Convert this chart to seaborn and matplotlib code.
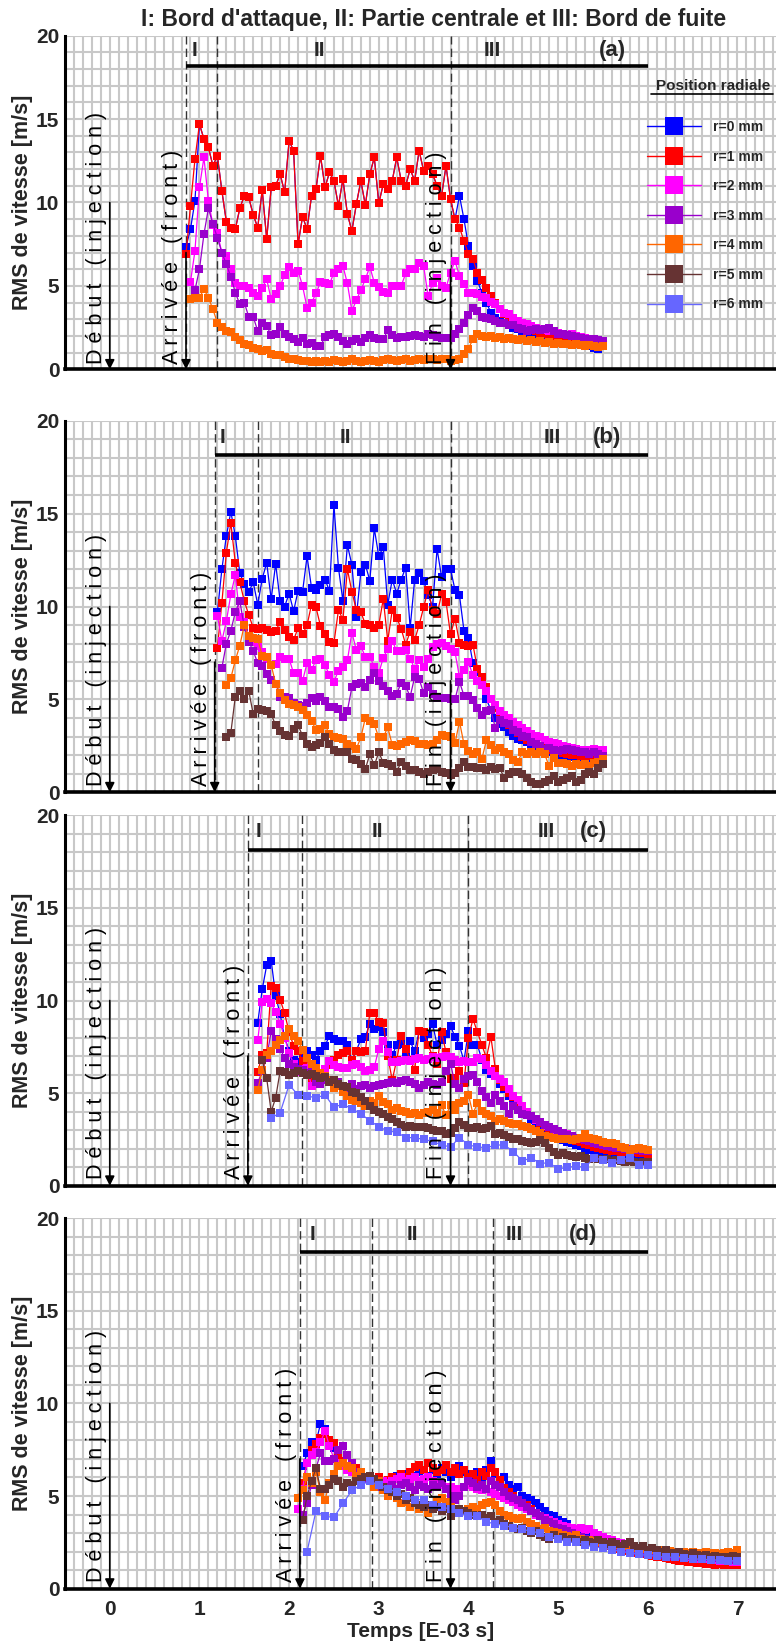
import numpy as np
import pandas as pd
import matplotlib
matplotlib.use("Agg")
import matplotlib.pyplot as plt
from matplotlib.lines import Line2D
from matplotlib.ticker import MultipleLocator
import seaborn as sns

sns.set_style("white")
NARROW = ["Liberation Sans Narrow", "Liberation Sans", "DejaVu Sans"]
ARIAL = ["Liberation Sans", "DejaVu Sans"]
plt.rcParams["font.family"] = ARIAL

# ---------------- data ----------------
RADII = ["r=0 mm", "r=1 mm", "r=2 mm", "r=3 mm", "r=4 mm", "r=5 mm", "r=6 mm"]
PALETTE = ["#0000ff", "#ff0000", "#ff00ff", "#9900cc", "#ff6600", "#663333", "#6666ff"]
STEP = 0.05
STEP_R6 = 0.1

# Panel (a)
a_r1 = [6.9, 9.8, 12.6, 14.7, 13.8, 13.3, 12.2, 12.8, 10.7, 8.85,
        8.5, 8.4, 9.65, 10.4, 10.3, 9.25, 8.5, 10.75, 7.8, 10.9,
        11.0, 11.7, 10.6, 13.7, 13.1, 7.5, 9.15, 8.4, 10.4, 10.8,
        12.8, 10.9, 11.8, 11.3, 9.8, 11.4, 9.3, 8.3, 9.9, 11.3,
        9.85, 11.7, 12.7, 9.95, 11.1, 10.8, 11.3, 12.7, 11.3, 11.0,
        12.0, 11.3, 13.1, 11.9, 12.2, 11.7, 11.0, 10.4, 12.2, 10.2,
        9.0, 8.5, 7.7, 6.9, 6.6, 5.8, 5.35, 4.85, 4.4, 4.0,
        3.6, 3.3, 3.1, 2.9, 2.75, 2.6, 2.5, 2.4, 2.3, 2.2,
        2.1, 2.0, 1.95, 1.9, 1.8, 1.75, 1.7, 1.65, 1.6, 1.55,
        1.5, 1.5, 1.45, 1.4]
a_r0 = [7.35, 8.4, 10.1] + a_r1[3:61] + [
        10.4, 9.0, 7.4, 6.2, 5.3, 4.6, 4.0, 3.4, 3.1, 2.9,
        2.8, 2.65, 2.5, 2.4, 2.3, 2.2, 2.0, 1.95, 1.95, 1.9,
        1.9, 1.85, 1.8, 1.7, 1.65, 1.6, 1.6, 1.5, 1.45, 1.4,
        1.3, 1.25]
a_r2 = [5.25, 7.1, 10.9, 12.7, 10.1, 8.65, 8.15, 7.0, 6.8, 6.0,
        5.15, 5.0, 5.0, 4.9, 4.6, 4.4, 4.9, 5.4, 4.2, 4.5,
        5.0, 5.65, 6.15, 5.8, 5.9, 5.0, 3.7, 4.0, 4.55, 5.25,
        5.15, 5.1, 5.8, 6.0, 6.2, 5.15, 3.5, 4.15, 4.75, 5.4,
        6.15, 5.2, 4.95, 4.65, 4.6, 5.0, 5.0, 5.0, 5.75, 6.0,
        6.0, 6.4, 6.2, 4.4, 5.15, 5.5, 5.0, 4.9, 5.8, 6.5,
        5.6, 5.1, 4.6, 4.55, 4.5, 4.35, 4.25, 4.05, 3.9, 3.6,
        3.35, 3.3, 3.1, 2.9, 2.8, 2.7, 2.6, 2.5, 2.45, 2.35,
        2.3, 2.3, 2.2, 2.15, 2.05, 2.1, 2.0, 1.95, 1.9, 1.85,
        1.8, 1.75, 1.7]
a_r3 = [4.75, 6.0, 8.1, 9.65, 8.7, 7.9, 7.0, 6.3, 5.55, 4.6,
        3.9, 4.0, 3.15, 3.15, 2.3, 2.8, 2.6, 2.05, 2.1, 2.55,
        2.15, 1.95, 1.8, 1.65, 1.9, 1.5, 1.6, 1.4, 1.4, 1.95,
        2.05, 2.15, 1.95, 1.7, 1.55, 1.7, 1.8, 1.65, 1.9, 2.05,
        1.9, 1.8, 1.8, 2.35, 2.05, 1.9, 1.95, 1.95, 2.0, 2.05,
        2.0, 1.95, 2.1, 2.05, 1.95, 1.9, 1.9, 1.9, 2.15, 2.4,
        2.8, 3.25, 3.7, 3.5, 3.15, 3.1, 3.0, 2.9, 2.8, 2.8,
        2.65, 2.65, 2.5, 2.45, 2.3, 2.35, 2.4, 2.35, 2.45, 2.5,
        2.3, 2.15, 2.1, 2.05, 2.0, 1.95, 1.9, 1.85, 1.8, 1.8,
        1.75, 1.7]
a_r4 = [4.2, 4.25, 4.3, 4.8, 4.3, 3.6, 2.8, 2.55, 2.3, 2.25,
        1.95, 1.75, 1.55, 1.45, 1.3, 1.2, 1.1, 1.15, 0.95, 0.85,
        0.85, 0.75, 0.65, 0.6, 0.55, 0.5, 0.5, 0.45, 0.5, 0.45,
        0.5, 0.45, 0.55, 0.5, 0.45, 0.5, 0.6, 0.5, 0.45, 0.5,
        0.55, 0.5, 0.45, 0.55, 0.6, 0.55, 0.5, 0.55, 0.6, 0.5,
        0.55, 0.6, 0.55, 0.65, 0.6, 0.55, 0.65, 0.6, 0.5, 0.55,
        0.6, 0.9, 1.25, 1.8, 2.1, 2.0, 1.95, 2.0, 1.9, 1.95,
        1.85, 1.9, 1.8, 1.75, 1.85, 1.7, 1.75, 1.65, 1.7, 1.6,
        1.65, 1.55, 1.6, 1.5, 1.55, 1.45, 1.5, 1.45, 1.4, 1.45,
        1.4, 1.35, 1.4]
a_start = [0.85, 0.85, 0.90, 0.95, 0.90]

# Panel (b)
b_r0 = [9.7, 12.0, 13.8, 15.1, 13.8, 11.8, 11.2, 10.8, 11.3, 10.1,
        11.5, 12.35, 10.4, 12.3, 10.3, 10.0, 10.7, 9.75, 10.85, 10.8,
        12.7, 11.0, 10.9, 11.15, 11.45, 10.85, 15.45, 12.1, 10.3, 13.3,
        12.25, 9.45, 11.85, 12.25, 11.4, 14.2, 12.7, 13.2, 10.1, 11.45,
        10.7, 11.45, 12.1, 8.85, 11.45, 11.8, 11.4, 10.6, 10.0, 13.1,
        11.6, 12.0, 12.0, 10.9, 10.6, 8.7, 8.3, 6.95, 6.5, 5.75,
        5.0, 4.45, 4.0, 3.7, 3.5, 3.25, 3.05, 2.85, 2.8, 2.7,
        2.5, 2.35, 2.2, 2.15, 2.15, 2.05, 2.0, 1.95, 1.85, 1.9,
        1.8, 1.75, 1.9, 1.85, 1.95, 2.05, 2.1]
b_r1 = [7.75, 10.2, 12.9, 14.5, 12.35, 11.3, 10.3, 9.55, 8.85, 8.8,
        8.85, 8.75, 8.65, 8.7, 9.15, 8.75, 8.35, 8.2, 8.85, 8.5,
        9.0, 10.1, 9.95, 8.95, 8.5, 8.1, 8.05, 9.8, 9.3, 12.0,
        10.8, 9.8, 9.7, 9.05, 9.0, 8.85, 9.0, 10.4, 8.15, 9.8,
        9.4, 8.8, 7.95, 8.65, 8.2, 9.0, 9.95, 10.9, 9.8, 9.6,
        10.65, 10.25, 8.5, 9.35, 8.05, 7.95, 7.9, 7.95, 6.65, 6.2,
        5.65, 5.0, 4.55, 4.15, 3.9, 3.6, 3.35, 3.2, 3.0, 2.8,
        2.7, 2.6, 2.45, 2.4, 2.3, 2.25, 2.2, 2.1, 2.05, 2.0,
        2.0, 1.95, 1.9, 1.95, 1.9, 1.95, 2.0]
b_r2 = [9.5, 8.15, 9.2, 10.65, 11.7, 9.45, 9.15, 8.35, 8.1, 7.85,
        7.55, 7.15, 6.85, 6.9, 7.3, 7.2, 7.2, 6.4, 6.4, 6.0,
        6.95, 6.6, 7.1, 7.2, 6.85, 6.3, 5.95, 6.55, 6.75, 7.1,
        8.6, 7.65, 7.85, 7.3, 7.3, 6.75, 6.4, 7.25, 7.7, 8.15,
        7.6, 7.6, 7.65, 7.2, 6.65, 7.1, 6.75, 7.2, 7.8, 8.0,
        8.05, 7.85, 7.7, 7.55, 6.2, 6.6, 7.0, 6.3, 6.0, 5.75,
        5.45, 5.0, 4.7, 4.35, 4.15, 4.0, 3.8, 3.6, 3.45, 3.3,
        3.15, 3.05, 2.95, 2.8, 2.7, 2.65, 2.6, 2.5, 2.45, 2.4,
        2.35, 2.3, 2.3, 2.25, 2.35, 2.3, 2.25]
b_r3 = [6.7, 8.0, 8.7, 9.7, 10.3, 8.9, 8.1, 7.6, 6.95, 6.8,
        6.35, 6.05, 5.85, 5.15, 5.15, 5.1, 4.8, 4.7, 4.65, 4.8,
        5.1, 4.9, 5.15, 4.9, 4.6, 4.6, 4.5, 4.05, 4.4, 5.65,
        5.85, 5.9, 5.65, 6.05, 6.4, 6.0, 5.7, 5.45, 5.2, 5.3,
        5.9, 5.7, 5.15, 6.2, 6.1, 5.35, 5.65, 5.3, 5.1, 5.1,
        5.1, 5.0, 5.0, 5.95, 5.2, 5.2, 4.95, 4.55, 4.15, 4.35,
        4.45, 3.45, 3.9, 3.75, 3.65, 3.35, 3.25, 3.05, 2.95, 2.7,
        2.6, 2.5, 2.35, 2.4, 2.3, 2.2, 2.25, 2.35, 2.3, 2.2,
        2.15, 2.15, 2.05, 2.15, 2.05, 1.95]
b_r4 = [5.75, 6.15, 7.1, 7.9, 9.0, 8.4, 8.3, 8.25, 7.35, 7.3,
        6.85, 5.85, 5.35, 4.95, 4.75, 4.7, 4.6, 4.45, 4.15, 3.85,
        3.35, 3.4, 3.6, 3.15, 3.0, 2.9, 2.85, 2.6, 2.5, 2.35,
        2.95, 4.0, 3.85, 3.65, 2.95, 2.95, 3.5, 2.55, 2.5, 2.6,
        2.7, 2.8, 2.75, 2.6, 2.6, 2.55, 2.6, 2.8, 3.1, 3.05,
        2.95, 2.65, 3.8, 2.6, 2.2, 2.05, 2.15, 1.8, 2.8, 2.55,
        2.3, 2.4, 2.15, 2.05, 1.75, 1.65, 2.15, 2.05, 2.15, 2.05,
        2.15, 2.05, 1.4, 1.85, 1.55, 1.55, 1.5, 1.4, 1.5, 1.45,
        1.5, 1.4, 1.55, 1.65, 1.8]
b_r5 = [2.95, 3.2, 5.15, 5.45, 5.0, 5.45, 4.2, 4.5, 4.45, 4.35,
        4.2, 3.6, 3.3, 3.1, 3.05, 3.4, 3.6, 3.05, 2.6, 2.45,
        2.55, 2.65, 2.95, 2.6, 2.3, 2.15, 2.15, 2.15, 1.8, 1.75,
        1.5, 1.25, 2.05, 1.45, 2.15, 1.6, 1.5, 1.4, 1.1, 1.65,
        1.4, 1.2, 1.2, 1.1, 1.0, 1.1, 1.2, 1.25, 1.1, 1.05,
        0.95, 1.05, 1.3, 1.65, 1.35, 1.35, 1.3, 1.3, 1.2, 1.35,
        1.25, 1.3, 0.75, 1.0, 1.1, 1.1, 1.0, 0.75, 0.55, 0.45,
        0.45, 0.55, 0.65, 0.85, 0.55, 0.65, 0.75, 0.9, 0.55, 0.65,
        1.0, 1.1, 1.0, 1.3, 1.5]
b_start = [1.2, 1.2, 1.2, 1.25, 1.3, 1.3]

# Panel (c)
c_r0 = [8.8, 10.6, 11.9, 12.15, 10.25, 9.25, 8.0, 7.3, 6.8, 6.7,
        6.9, 7.3, 7.05, 6.8, 7.3, 7.55, 8.1, 7.9, 7.8, 7.8,
        7.6, 6.8, 7.3, 7.9, 8.05, 8.75, 8.45, 8.55, 8.3, 7.6,
        7.05, 7.6, 7.65, 7.1, 7.8, 7.25, 8.35, 8.0, 8.2, 8.75,
        7.6, 7.85, 8.2, 8.6, 8.05, 7.55, 6.75, 8.35, 7.6, 7.6,
        6.8, 6.25, 6.05, 6.0, 5.5, 5.2, 4.85, 4.65, 4.35, 4.1,
        3.9, 3.55, 3.35, 3.25, 2.95, 2.8, 2.8, 2.6, 2.45, 2.35,
        2.3, 2.2, 2.15, 2.05, 1.95, 1.9, 1.85, 1.8, 1.75, 1.7,
        1.7, 1.65, 1.65, 1.6, 1.6, 1.5, 1.5, 1.5]
c_r1 = [6.15, 7.05, 7.15, 10.8, 10.7, 10.05, 9.3, 8.3, 7.55, 7.25,
        6.75, 6.9, 5.6, 5.85, 6.0, 6.3, 6.5, 6.8, 7.05, 7.15,
        7.25, 6.8, 7.25, 7.2, 7.25, 9.35, 9.3, 8.85, 8.8, 7.0,
        5.7, 6.8, 8.1, 7.4, 6.8, 6.25, 8.35, 8.3, 7.6, 7.0,
        6.6, 8.3, 7.2, 5.75, 5.8, 6.2, 5.55, 8.0, 9.0, 8.3,
        7.6, 6.9, 8.05, 6.3, 5.7, 5.35, 5.0, 4.8, 4.5, 4.25,
        4.0, 3.75, 3.55, 3.4, 3.2, 3.05, 2.95, 2.8, 2.7, 2.6,
        2.5, 2.4, 2.35, 2.25, 2.2, 2.1, 2.05, 2.0, 1.95, 1.9,
        1.9, 1.85, 1.85, 1.8, 1.8, 1.75, 1.75, 1.7]
c_r2 = [7.85, 9.9, 10.1, 9.85, 9.4, 8.75, 8.0, 7.15, 6.6, 6.15,
        6.3, 6.35, 5.4, 5.85, 5.95, 6.3, 6.75, 6.5, 6.4, 6.35,
        6.35, 6.5, 6.6, 6.4, 6.2, 6.25, 6.4, 7.4, 7.8, 7.2,
        6.7, 6.7, 6.75, 6.8, 6.75, 6.85, 6.9, 6.8, 6.85, 6.95,
        6.9, 6.95, 7.0, 6.95, 6.8, 6.7, 6.75, 6.7, 6.7, 6.9,
        6.85, 6.5, 6.2, 5.95, 5.75, 5.6, 5.2, 4.85, 4.65, 4.3,
        4.0, 3.75, 3.55, 3.45, 3.25, 3.15, 3.0, 2.95, 2.8, 2.8,
        2.7, 2.6, 2.55, 2.45, 2.4, 2.35, 2.3, 2.25, 2.2, 2.15,
        2.15, 2.1, 2.05, 2.0, 2.0, 2.0, 1.95, 1.95]
c_r3 = [5.55, 6.2, 6.9, 8.35, 7.9, 7.4, 6.9, 6.6, 6.4, 6.3,
        6.25, 6.1, 6.25, 5.6, 5.5, 5.7, 5.6, 5.55, 5.6, 5.4,
        5.3, 5.5, 5.2, 5.4, 5.45, 5.3, 5.4, 5.45, 5.5, 5.55,
        5.6, 5.55, 5.65, 5.7, 5.6, 5.5, 5.3, 5.45, 5.6, 5.5,
        5.45, 5.6, 6.2, 6.6, 5.5, 5.3, 5.75, 5.9, 6.0, 5.6,
        5.1, 4.8, 4.45, 4.9, 4.6, 4.3, 3.9, 4.3, 4.1, 3.9,
        3.8, 3.75, 3.6, 3.45, 3.3, 3.2, 3.05, 2.95, 2.85, 2.75,
        2.7, 2.6, 2.5, 2.45, 2.4, 2.3, 2.25, 2.2, 2.15, 2.1,
        2.05, 2.05, 2.0, 2.0, 1.95, 1.95, 1.9, 1.9]
c_r4 = [5.15, 6.25, 7.05, 7.3, 7.6, 7.85, 8.1, 8.45, 8.1, 7.8,
        7.35, 6.9, 6.6, 6.35, 6.1, 5.9, 5.7, 5.3, 5.4, 5.05,
        4.85, 4.65, 4.55, 4.45, 4.3, 4.6, 4.45, 4.85, 4.5, 4.4,
        4.1, 4.2, 4.05, 4.0, 3.9, 3.95, 3.8, 3.95, 4.0, 4.1,
        3.95, 4.35, 3.8, 4.35, 4.1, 4.45, 4.6, 4.9, 3.9, 4.45,
        4.05, 3.9, 3.75, 3.5, 3.6, 3.5, 3.4, 3.35, 3.35, 3.25,
        3.15, 3.05, 2.95, 2.85, 2.7, 2.65, 2.6, 2.55, 2.5, 2.5,
        2.45, 2.55, 2.6, 2.8, 2.6, 2.5, 2.45, 2.35, 2.3, 2.3,
        2.25, 2.1, 2.05, 1.95, 2.0, 2.05, 2.0, 1.95]
c_r5 = [6.8, 5.8, 4.0, 4.75, 6.2, 6.15, 6.0, 6.1, 6.2, 6.1,
        6.0, 6.05, 5.95, 5.8, 5.85, 5.6, 5.7, 5.5, 5.4, 5.35,
        5.05, 5.0, 4.8, 4.6, 4.3, 4.1, 4.0, 3.9, 3.7, 3.6,
        3.45, 3.3, 3.2, 3.25, 3.2, 3.2, 3.15, 3.1, 3.0, 2.95,
        2.95, 2.8, 2.85, 3.1, 3.45, 3.3, 3.1, 3.1, 3.15, 3.05,
        3.1, 3.25, 2.8, 2.85, 2.75, 2.65, 2.55, 2.5, 2.4, 2.35,
        2.3, 2.35, 2.45, 2.3, 2.05, 1.85, 1.65, 1.75, 1.65, 1.6,
        1.55, 1.6, 1.5, 1.45, 1.5, 1.45, 1.4, 1.45, 1.35, 1.4,
        1.35, 1.3, 1.35, 1.3, 1.25, 1.3, 1.3]
c_r6 = [3.65, 3.95, 5.45, 4.9, 4.85, 4.75, 4.9, 4.25, 4.4, 4.15,
        3.9, 3.5, 3.2, 2.95, 2.9, 2.6, 2.6, 2.5, 2.4, 2.2,
        2.1, 2.6, 2.2, 2.1, 2.05, 2.2, 2.2, 1.85, 1.35, 1.5,
        1.2, 1.25, 0.9, 1.0, 1.05, 1.0, 1.5, 1.4, 1.25, 1.4,
        1.5, 1.1, 1.1]
c_start = [1.65, 1.65, 1.65, 1.65, 1.65, 1.7, 1.8]

# Panel (d)
d_r0 = [6.6, 7.3, 7.9, 7.9, 8.9, 8.6, 8.0, 7.6, 7.3, 6.9,
        6.6, 6.3, 6.2, 6.0, 5.9, 5.8, 5.9, 5.9, 5.7, 5.8,
        5.9, 6.1, 6.0, 6.2, 6.3, 6.1, 6.3, 6.4, 6.1, 6.4,
        6.2, 6.5, 6.3, 6.0, 6.3, 6.6, 6.3, 6.2, 6.1, 6.3,
        6.0, 6.4, 6.9, 6.2, 5.8, 6.0, 5.6, 5.4, 5.5, 5.0,
        4.9, 4.8, 4.6, 4.4, 4.2, 4.0, 3.9, 3.7, 3.6, 3.5,
        3.3, 3.2, 3.1, 3.0, 2.9, 2.8, 2.75, 2.6, 2.6, 2.5,
        2.45, 2.4, 2.35, 2.3, 2.2, 2.15, 2.1, 2.05, 2.0, 1.95,
        1.9, 1.85, 1.85, 1.8, 1.75, 1.7, 1.7, 1.65, 1.6, 1.6,
        1.55, 1.55, 1.5, 1.5, 1.45, 1.45, 1.4, 1.4]
d_r1 = [4.9, 5.7, 6.8, 7.5, 7.8, 8.15, 8.35, 8.0, 7.85, 7.2,
        6.9, 6.6, 6.4, 6.5, 6.2, 6.0, 5.9, 5.8, 6.0, 5.7,
        5.85, 6.0, 5.9, 6.2, 6.0, 6.3, 6.55, 6.65, 6.4, 6.8,
        6.5, 6.3, 6.4, 6.7, 6.3, 6.5, 6.2, 6.4, 6.0, 6.2,
        5.85, 6.3, 6.1, 6.5, 6.3, 5.85, 5.45, 5.2, 5.0, 4.8,
        4.6, 4.5, 4.3, 4.1, 3.9, 3.7, 3.6, 3.5, 3.3, 3.2,
        3.1, 2.95, 2.85, 2.8, 2.7, 2.6, 2.5, 2.4, 2.35, 2.3,
        2.2, 2.15, 2.1, 2.05, 2.0, 1.95, 1.9, 1.85, 1.8, 1.75,
        1.7, 1.7, 1.65, 1.6, 1.55, 1.5, 1.5, 1.45, 1.45, 1.4,
        1.4, 1.35, 1.35, 1.3, 1.35, 1.3, 1.3, 1.25, 1.3]
d_r2 = [4.3, 5.4, 6.8, 7.2, 7.4, 7.9, 8.5, 7.7, 7.0, 6.8,
        6.6, 6.4, 6.3, 6.2, 6.1, 6.0, 5.9, 5.9, 5.8, 5.8,
        5.7, 5.8, 5.9, 6.0, 5.8, 5.9, 6.0, 5.8, 5.9, 6.0,
        5.8, 5.7, 5.6, 5.5, 5.5, 5.3, 5.4, 5.5, 5.6, 5.5,
        5.4, 5.3, 5.4, 5.2, 5.1, 5.0, 4.9, 4.8, 4.7, 4.5,
        4.4, 4.3, 4.2, 4.0, 3.9, 3.8, 3.7, 3.6, 3.5, 3.4,
        3.35, 3.3, 3.2, 3.25, 3.15, 3.2, 3.0, 2.9, 2.8, 2.7,
        2.6, 2.5, 2.45, 2.4, 2.3, 2.25, 2.2, 2.1, 2.05, 2.0,
        1.95, 1.9, 1.85, 1.8, 1.8, 1.75, 1.7, 1.7, 1.65, 1.6,
        1.6, 1.6, 1.55, 1.55, 1.5, 1.5, 1.5, 1.45, 1.45]
d_r3 = [4.0, 4.6, 5.6, 6.5, 7.3, 6.9, 6.9, 7.0, 7.5, 7.7,
        7.2, 6.8, 6.3, 6.0, 5.9, 5.8, 5.7, 5.5, 5.4, 5.5,
        5.6, 5.4, 5.6, 5.7, 5.5, 5.3, 5.6, 5.5, 5.4, 5.6,
        5.5, 5.7, 5.4, 5.0, 4.8, 5.0, 5.5, 5.8, 5.7, 5.5,
        5.6, 5.4, 5.8, 5.6, 5.5, 5.2, 5.0, 4.9, 4.8, 4.6,
        4.4, 4.2, 4.1, 3.9, 3.7, 3.6, 3.5, 3.3, 3.2, 3.1,
        3.0, 2.9, 2.8, 2.7, 2.65, 2.6, 2.5, 2.45, 2.4, 2.35,
        2.3, 2.2, 2.15, 2.1, 2.05, 2.0, 1.95, 1.9, 1.9, 1.85,
        1.8, 1.8, 1.75, 1.8, 1.75, 1.7, 1.75, 1.7, 1.7, 1.65,
        1.7, 1.65, 1.65, 1.6, 1.6, 1.6, 1.55, 1.6]
d_r4 = [4.9, 5.3, 6.0, 5.7, 6.3, 5.2, 4.8, 5.7, 6.2, 6.6,
        6.8, 6.6, 6.5, 6.1, 6.3, 6.0, 5.8, 5.5, 5.8, 5.3,
        5.0, 5.2, 4.9, 4.6, 4.7, 4.4, 4.6, 4.3, 4.5, 4.1,
        4.5, 4.8, 4.9, 4.7, 4.4, 4.2, 4.1, 4.2, 4.3, 4.4,
        4.3, 4.5, 4.6, 4.7, 4.5, 4.2, 4.0, 3.9, 3.8, 3.75,
        3.8, 3.6, 3.5, 3.4, 3.2, 3.3, 3.1, 3.05, 3.0, 2.9,
        2.85, 2.8, 2.9, 2.7, 2.6, 2.65, 2.55, 2.5, 2.45, 2.4,
        2.4, 2.35, 2.3, 2.3, 2.25, 2.2, 2.2, 2.15, 2.1, 2.1,
        2.05, 2.1, 2.0, 2.05, 2.0, 1.95, 2.0, 1.95, 2.0, 1.9,
        1.95, 2.0, 1.9, 1.95, 1.85, 1.9, 2.0, 1.95, 2.1]
d_r5 = [3.7, 5.0, 5.8, 6.5, 5.4, 5.4, 5.6, 5.9, 5.8, 5.5,
        5.7, 5.6, 5.8, 5.9, 6.0, 6.1, 5.9, 5.7, 5.5, 5.3,
        5.2, 5.0, 5.1, 4.8, 4.9, 4.6, 4.5, 4.4, 4.5, 4.3,
        4.4, 4.2, 4.3, 3.9, 4.1, 4.3, 4.2, 4.1, 4.0, 3.9,
        4.0, 3.8, 3.9, 3.6, 3.7, 3.5, 3.4, 3.3, 3.2, 3.3,
        3.1, 3.0, 3.1, 2.9, 2.8, 2.7, 2.9, 2.7, 2.8, 2.6,
        2.7, 2.6, 2.5, 2.6, 2.5, 2.45, 2.6, 2.5, 2.4, 2.5,
        2.4, 2.3, 2.4, 2.5, 2.3, 2.2, 2.3, 2.1, 2.2, 2.1,
        2.0, 2.1, 1.95, 1.9, 2.0, 1.85, 1.8, 1.9, 1.8, 1.75,
        1.8, 1.7, 1.75, 1.7, 1.65, 1.7, 1.75, 1.7]
d_r6 = [2.0, 4.2, 3.9, 3.85, 4.6, 5.3, 5.6, 5.8, 5.6, 5.4,
        5.2, 5.0, 4.8, 4.8, 4.5, 4.4, 4.3, 4.1, 3.9, 3.9,
        3.6, 3.5, 3.4, 3.3, 3.2, 3.1, 3.0, 2.8, 2.7, 2.5,
        2.5, 2.35, 2.25, 2.2, 2.1, 2.0, 1.95, 1.85, 1.8, 1.75,
        1.7, 1.7, 1.65, 1.6, 1.6, 1.55, 1.55, 1.5, 1.5]
d_start = [2.15, 2.1, 2.1, 2.15, 2.1, 2.15, 2.2]

# Annotation positions (time, ms)
ARRIVE = [0.85, 1.17, 1.54, 2.12]
DASHED = [[0.85, 1.2, 3.8], [1.17, 1.65, 3.8], [1.54, 2.14, 4.0], [2.12, 2.92, 4.27]]
ROMAN_X = [[0.95, 2.34, 4.27], [1.26, 2.63, 4.93], [1.66, 2.98, 4.87], [2.26, 3.37, 4.51]]
TAG_X = [5.61, 5.55, 5.39, 5.28]
TAGS = ["(a)", "(b)", "(c)", "(d)"]
START_INJ = 0.0
END_INJ = 3.8
SECTION_END = 6.0
SECTION_Y = 18.15
LABEL_Y = 19.1

PANELS = [
    ([a_r0, a_r1, a_r2, a_r3, a_r4], a_start),
    ([b_r0, b_r1, b_r2, b_r3, b_r4, b_r5], b_start),
    ([c_r0, c_r1, c_r2, c_r3, c_r4, c_r5, c_r6], c_start),
    ([d_r0, d_r1, d_r2, d_r3, d_r4, d_r5, d_r6], d_start),
]


def frame(series, starts):
    parts = []
    for k, (vals, t0) in enumerate(zip(series, starts)):
        step = STEP_R6 if k == 6 else STEP
        t = t0 + step * np.arange(len(vals))
        parts.append(pd.DataFrame({"t": t, "v": vals, "r": RADII[k]}))
    return pd.concat(parts, ignore_index=True)


def spaced(s):
    return " ".join(list(s))


# ---------------- figure ----------------
fig = plt.figure(figsize=(7.76, 16.41), dpi=100)
LEFT, WIDTH = 0.0837, 0.9163
BOXES = [(0.7749, 0.2034), (0.5172, 0.2264), (0.2774, 0.2258), (0.0319, 0.2258)]

axes = []
for p, ((series, starts), (bot, h)) in enumerate(zip(PANELS, BOXES)):
    ax = fig.add_axes([LEFT, bot, WIDTH, h])
    axes.append(ax)
    df = frame(series, starts)
    n = len(series)
    sns.lineplot(data=df, x="t", y="v", hue="r", hue_order=RADII[:n],
                 palette=PALETTE[:n], marker="s", markersize=5.4,
                 markeredgewidth=0, linewidth=0.9, estimator=None,
                 sort=False, legend=False, ax=ax, zorder=3)

    ax.set_xlim(-0.5, 7.43)
    ax.set_ylim(0, 20)
    ax.xaxis.set_major_locator(MultipleLocator(1))
    ax.xaxis.set_minor_locator(MultipleLocator(0.1))
    ax.yaxis.set_major_locator(MultipleLocator(5))
    ax.yaxis.set_minor_locator(MultipleLocator(1))
    ax.grid(True, which="both", color="#c8c8c8", lw=1.5)
    ax.set_axisbelow(True)
    for s in ["top", "right"]:
        ax.spines[s].set_visible(False)
    ax.spines["left"].set_linewidth(2.2)
    ax.spines["bottom"].set_linewidth(2.6)
    ax.spines["left"].set_color("black")
    ax.spines["bottom"].set_color("black")
    ax.tick_params(axis="both", which="major", direction="in", length=7,
                   width=1.8, color="black", labelsize=15, pad=4)
    ax.tick_params(axis="both", which="minor", direction="in", length=3.5,
                   width=1.3, color="black")
    plt.setp(ax.get_yticklabels(), fontweight="bold", family=NARROW)
    if p < 3:
        ax.tick_params(axis="x", which="both", labelbottom=False)
        ax.set_xlabel("")
    else:
        ax.tick_params(axis="x", which="major", pad=8)
        plt.setp(ax.get_xticklabels(), fontweight="bold", family=NARROW)
        ax.set_xlabel("Temps [E-03 s]", fontsize=15, fontweight="bold",
                      family=NARROW, labelpad=2)
    ax.set_ylabel("RMS de vitesse [m/s]", fontsize=15.5, fontweight="bold")
    ax.yaxis.set_label_coords(-0.045, 0.5)

    # section markers
    for xd in DASHED[p]:
        ax.axvline(xd, color="#333333", lw=1.0, ls=(0, (6, 3)), zorder=2)
    ax.hlines(SECTION_Y, ARRIVE[p], SECTION_END, color="black", lw=2.6, zorder=4)
    for xr, lab in zip(ROMAN_X[p], ["I", "II", "III"]):
        ax.text(xr, LABEL_Y, lab, ha="center", va="center", fontsize=15,
                fontweight="bold", family=NARROW, zorder=5)
    ax.text(TAG_X[p], LABEL_Y, TAGS[p], ha="center", va="center", fontsize=16,
            fontweight="bold", family=NARROW, zorder=5)

    # event arrows
    events = [(START_INJ, 10.0, "Début (injection)"),
              (ARRIVE[p], 7.0, "Arrivée (front)"),
              (END_INJ, 6.0, "Fin (injection)")]
    for xe, top, lab in events:
        ax.annotate("", xy=(xe, 0.0), xytext=(xe, top),
                    arrowprops=dict(arrowstyle="-|>", color="black", lw=1.2,
                                    mutation_scale=14, shrinkA=0, shrinkB=0),
                    zorder=6)
        ax.text(xe - 0.035, 0.35, spaced(lab), rotation=90, ha="right",
                va="bottom", fontsize=15.5, color="black", zorder=6)

# legend in panel (a)
axA = axes[0]
handles = [Line2D([0], [0], color=c, lw=1.0, marker="s", markersize=13,
                  markeredgewidth=0) for c in PALETTE]
axA.legend(handles, RADII, loc="upper left", bbox_to_anchor=(0.818, 0.747),
           frameon=False, borderaxespad=0, borderpad=0, handlelength=3.9,
           handletextpad=0.9, labelspacing=1.12,
           prop={"weight": "bold", "size": 10, "family": ARIAL})
axA.text(0.911, 0.849, "Position radiale", transform=axA.transAxes,
         ha="center", va="center", fontsize=11, fontweight="bold",
         family=NARROW, zorder=7)
axA.plot([0.824, 0.996], [0.824, 0.824], transform=axA.transAxes,
         color="black", lw=1.2, clip_on=False, zorder=7)

fig.text(0.559, 0.988, "I: Bord d'attaque, II: Partie centrale et III: Bord de fuite",
         ha="center", va="center", fontsize=16.5, fontweight="bold", family=NARROW)

fig.savefig("out.png", dpi=100)
